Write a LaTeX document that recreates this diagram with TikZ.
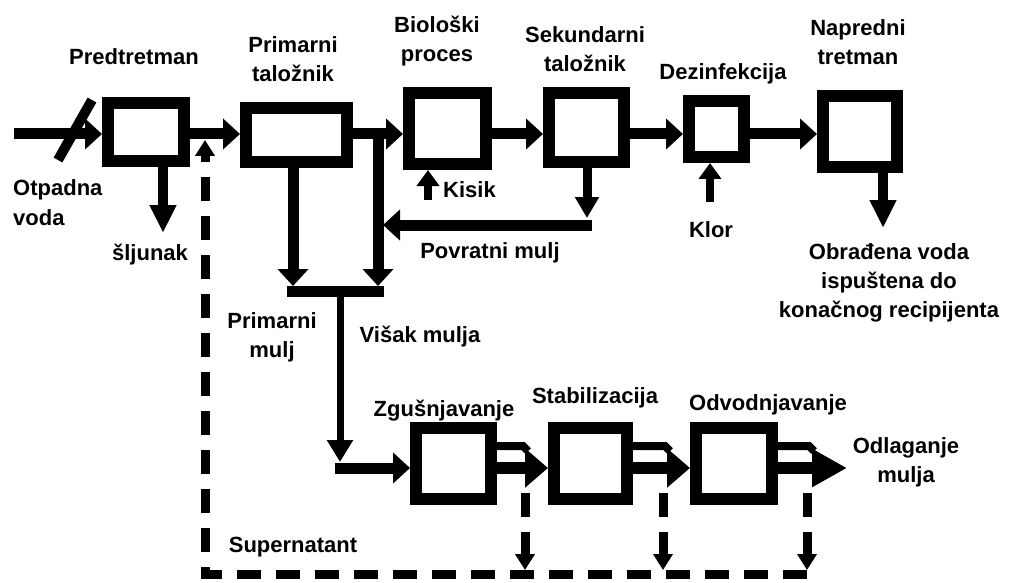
\documentclass[tikz,border=0pt]{standalone}
\usepackage{fontspec}
\setmainfont{Liberation Sans}
\usetikzlibrary{arrows.meta,calc}
\begin{document}
\begin{tikzpicture}[x=1pt,y=-1pt,
    tank/.style 2 args={draw, line width=12pt, outer sep=6pt, inner sep=0pt,
        minimum width=#1pt-12pt, minimum height=#2pt-12pt},
    lbl/.style={font=\fontsize{22}{29}\selectfont\bfseries, inner sep=0pt, align=center, anchor=base},
    flow/.style={line width=11pt, -{Triangle[length=17pt,width=30pt]}},
    drop/.style={line width=10pt, -{Triangle[length=28pt,width=25pt]}},
    feed/.style={line width=8pt, -{Triangle[length=16pt,width=22pt]}},
    tube/.style={line width=12pt, -{Triangle[length=23pt,width=38pt]}},
    rim/.style={line width=8pt},
    recycle/.style={line width=9pt, dash pattern=on 24pt off 15pt, -{Triangle[length=16pt,width=19pt]}}]
        \useasboundingbox[fill=white] (0,0) rectangle (1015,583);

        % water line
        \node[tank={88}{70}] (pre) at (146,132) {};
        \node[tank={113}{66}] (prim) at (296.5,135) {};
        \node[tank={89}{83}] (bio) at (447.5,128.5) {};
        \node[tank={87}{81}] (sek) at (586.5,127.5) {};
        \node[tank={67}{68}] (dez) at (716.5,129) {};
        \node[tank={86}{83}] (nap) at (860,131.5) {};

        % sludge line
        \node[tank={87}{83}] (zg) at (453.5,463.5) {};
        \node[tank={85}{83}] (stab) at (590.5,463.5) {};
        \node[tank={88}{83}] (odv) at (734,463.5) {};

        \coordinate (in) at (14,134);
        \draw[flow] (in) -- (in -| pre.west);
        \draw[line width=10pt] (58,160) -- (92,100);
        \foreach \a/\b in {pre/prim,prim/bio,bio/sek,sek/dez,dez/nap} {
            \draw[flow] (\a.east |- in) -- (\b.west |- in);
        }

        \coordinate (grit) at (163,233);
        \draw[drop] (pre.south -| grit) -- (grit);
        \coordinate (kisik) at (428,200);
        \draw[feed] (kisik) -- (bio.south -| kisik);
        \coordinate (klor) at (710,202);
        \draw[feed] (klor) -- (dez.south -| klor);
        \coordinate (out) at (883,228);
        \draw[drop] (nap.south -| out) -- (out);

        % return sludge
        \coordinate (ras) at (587,218);
        \draw[line width=9pt, -{Triangle[length=21pt,width=23pt]}] (sek.south -| ras) -- (ras);
        \coordinate (rasR) at (592,225);
        \coordinate (rasL) at (383,225);
        \draw[flow] (rasR) -- (rasL);

        \coordinate (split) at (378,134);
        \coordinate (barL) at (293,286);
        \coordinate (barR) at (378,286);
        \draw[flow] (barL |- prim.south) -- (barL);
        \draw[flow] (split) -- (barR);
        \draw[line width=11pt] (287,291) -- (384,291);

        \coordinate (mix) at (340,291);
        \coordinate (bend) at (340,462);
        \draw[line width=7pt, -{Triangle[length=22pt,width=25pt]}] (mix) -- (bend);

        \coordinate (low) at (335,468);
        \coordinate (top) at (0,446);
        \draw[flow] (low) -- (low -| zg.west);
        \foreach \a/\b in {zg/stab,stab/odv} {
            \draw[tube] (low -| \a.east) -- (low -| \b.west);
            \draw[rim] (top -| \a.east) -- ($(top -| \b.west)+(-25,0)$) -- ++(5,5);
        }
        \coordinate (dump) at (847,468);
        \draw[tube, -{Triangle[length=35pt,width=36pt]}] (low -| odv.east) -- (dump);
        \draw[rim] (top -| odv.east) -- ($(top -| dump)+(-38,0)$) -- ++(5,5);

        % supernatant
        \coordinate (s1) at (525,493);
        \coordinate (s2) at (663,493);
        \coordinate (s3) at (807,493);
        \coordinate (floor) at (0,570);
        \coordinate (corner) at (205,574);
        \coordinate (ret) at (205,140);
        \foreach \s in {s1,s2,s3} {
            \draw[recycle] (\s) -- (\s |- floor);
        }
        \draw[recycle] (s3 |- corner) -- (corner) -- (ret);

        \node[lbl] (lpre) at (134,65) {Predtretman};
        \node[lbl] (lprim) at (293,82) {Primarni\\taložnik};
        \node[lbl] (lbio) at (437,62) {Biološki\\proces};
        \node[lbl] (lsek) at (585,72) {Sekundarni\\taložnik};
        \node[lbl] (ldez) at (723,80) {Dezinfekcija};
        \node[lbl] (lnap) at (858,65) {Napredni\\tretman};
        \node[lbl, align=left, anchor=base west] (lin) at (13,225) {Otpadna\\voda};
        \node[lbl] (lgrit) at (150,260) {šljunak};
        \node[lbl, anchor=base west] (lkis) at (443,197) {Kisik};
        \node[lbl] (lklor) at (711,237) {Klor};
        \node[lbl] (lras) at (490,258) {Povratni mulj};
        \node[lbl] (lout) at (889,317) {Obrađena voda\\ispuštena do\\konačnog recipijenta};
        \node[lbl] (lpm) at (272,357) {Primarni\\mulj};
        \node[lbl] (lwas) at (420,342) {Višak mulja};
        \node[lbl] (lzg) at (444,416) {Zgušnjavanje};
        \node[lbl] (lstab) at (595,403) {Stabilizacija};
        \node[lbl] (lodv) at (768,410) {Odvodnjavanje};
        \node[lbl] (ldump) at (906,482) {Odlaganje\\mulja};
        \node[lbl] (lsup) at (293,552) {Supernatant};

\end{tikzpicture}
\end{document}
